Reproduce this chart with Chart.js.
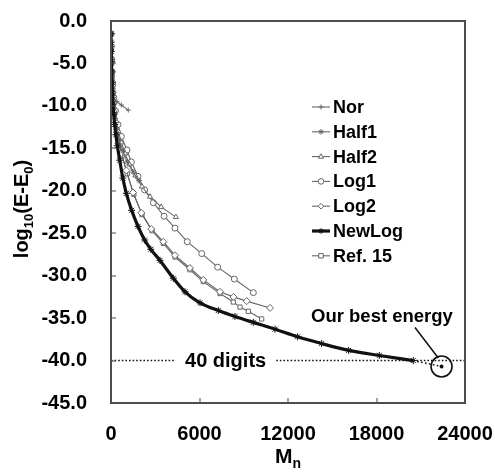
<!DOCTYPE html>
<html>
<head>
<meta charset="utf-8">
<script src="https://cdn.jsdelivr.net/npm/chart.js@4/dist/chart.umd.min.js"></script>
<style>
html,body{margin:0;padding:0;background:#fff;}
canvas{display:block;}
</style>
</head>
<body>
<canvas id="c" width="495" height="473"></canvas>
<script>
// ---- data ----
const SERIES_NAMES = ['Nor', 'Half1', 'Half2', 'Log1', 'Log2', 'NewLog', 'Ref. 15'];

const NOR_X = [0, 10, 20, 35, 50, 70, 100, 160, 400, 700, 1170];
const NOR_Y = [-1.5, -2.5, -3.8, -5.0, -6.2, -7.4, -8.3, -9.0, -9.5, -9.9, -10.5];

const HALF1_X = [0, 15, 30, 50, 80, 120, 180, 260, 380, 550, 800, 1100, 1500, 1900];
const HALF1_Y = [-1.5, -3.0, -4.5, -6.0, -7.5, -8.8, -10.2, -11.5, -12.8, -14.0, -15.3, -16.6, -17.8, -18.8];

const HALF2_X = [0, 20, 40, 70, 110, 170, 250, 360, 500, 700, 950, 1250, 1650, 2100, 2644, 3400, 4400];
const HALF2_Y = [-1.5, -3.2, -4.8, -6.4, -7.8, -9.3, -10.6, -11.8, -13.0, -14.3, -15.6, -16.9, -18.2, -19.5, -20.7, -21.9, -23.1];

const LOG1_X = [0, 20, 40, 70, 120, 190, 300, 475, 700, 1085, 1380, 1830, 2280, 2870, 3600, 4340, 5170, 6150, 7230, 8360, 9650];
const LOG1_Y = [-1.5, -3.0, -4.5, -6.0, -7.5, -9.0, -10.6, -12.2, -13.6, -15.2, -16.6, -18.3, -19.9, -21.4, -23.0, -24.4, -26.0, -27.4, -29.0, -30.4, -32.0];

const LOG2_X = [0, 15, 30, 50, 80, 120, 180, 250, 350, 450, 700, 1040, 1490, 2060, 2730, 3548, 4340, 5350, 6260, 7390, 8300, 9200, 10780];
const LOG2_Y = [-1.5, -3.0, -4.5, -6.0, -7.2, -8.4, -9.6, -10.6, -12.0, -13.3, -15.6, -17.6, -20.2, -22.6, -24.5, -26.0, -27.6, -29.1, -30.5, -31.9, -32.5, -33.0, -33.8];

const NEWLOG_X = [0, 10, 20, 35, 50, 70, 100, 140, 190, 250, 330, 430, 590, 800, 1040, 1400, 1830, 2280, 2700, 3322, 4226, 5017, 6034, 7277, 8407, 9650, 11119, 12650, 14280, 16110, 18190, 20490];
const NEWLOG_Y = [-1.5, -2.5, -3.6, -4.8, -6.0, -7.2, -8.5, -9.8, -11.0, -12.2, -13.4, -14.7, -16.4, -18.5, -20.3, -22.3, -24.2, -25.8, -26.9, -28.2, -30.3, -31.9, -33.2, -34.1, -34.8, -35.5, -36.3, -37.2, -38.0, -38.8, -39.4, -40.0];

const REF15_X = [0, 20, 40, 70, 110, 170, 250, 350, 500, 750, 1100, 1550, 2100, 2780, 3548, 4340, 5350, 6260, 7390, 8290, 8745, 9310, 10215];
const REF15_Y = [-1.5, -3.3, -5.0, -6.6, -8.0, -9.5, -10.8, -12.2, -13.8, -15.9, -18.0, -20.4, -22.8, -24.7, -26.2, -27.8, -29.3, -30.7, -32.1, -33.1, -33.7, -34.2, -35.1];

// best energy point and the 40-digit reference line
const BEST_X = [20490, 22410];
const BEST_Y = [-40.0, -40.7];
const DIGITS_LEVEL = -40;
const DIGITS_X = [0, 4400, null, 11200, 24000];

// plot frame corners (axis extent), drawn as a closed polyline dataset
const FRAME_X = [0, 24000, 24000, 0, 0];
const FRAME_Y = [0, 0, -45, -45, 0];

const X_TICKS = [0, 6000, 12000, 18000, 24000];
const Y_TICKS = [0, -5, -10, -15, -20, -25, -30, -35, -40, -45];

// ---- build ----
const pts = (xs, ys) => xs.map((x, i) => ({x: x, y: ys[i]}));
const GREY = '#666666';
const FRAME = '#4d4d4d';
const styles = [
  {style: 'cross', r: 2.5, col: GREY, w: 1.1},
  {style: 'star', r: 3, col: GREY, w: 1.1},
  {style: 'triangle', r: 3, col: GREY, w: 1.1},
  {style: 'circle', r: 3, col: GREY, w: 1.1},
  {style: 'rectRot', r: 3.5, col: GREY, w: 1.1},
  {style: 'star', r: 3.5, col: '#111', w: 3.2},
  {style: 'rect', r: 3, col: GREY, w: 1.1}
];
const raw = [[NOR_X, NOR_Y], [HALF1_X, HALF1_Y], [HALF2_X, HALF2_Y], [LOG1_X, LOG1_Y], [LOG2_X, LOG2_Y], [NEWLOG_X, NEWLOG_Y], [REF15_X, REF15_Y]];

const datasets = raw.map((d, i) => ({
  label: SERIES_NAMES[i],
  data: pts(d[0], d[1]),
  showLine: true,
  borderColor: styles[i].col,
  borderWidth: styles[i].w,
  pointStyle: styles[i].style,
  pointRadius: styles[i].r,
  pointBorderColor: styles[i].col,
  pointBorderWidth: 1,
  pointBackgroundColor: '#fff',
  tension: i === 5 ? 0.3 : 0,
  cubicInterpolationMode: i === 5 ? 'monotone' : 'default',
  order: i === 5 ? 0 : 1
}));

datasets.push({
  label: 'digits',
  data: DIGITS_X.map(x => ({x: x === null ? 8000 : x, y: x === null ? null : DIGITS_LEVEL})),
  showLine: true, spanGaps: false,
  borderColor: '#111', borderWidth: 1.6, borderDash: [1.6, 2],
  pointRadius: 0, order: 2
});
datasets.push({
  label: 'best',
  data: pts(BEST_X, BEST_Y),
  showLine: true,
  borderColor: '#111', borderWidth: 1.6, borderDash: [1.6, 2.4],
  pointRadius: [0, 1.2], pointBackgroundColor: '#111', pointBorderColor: '#111',
  order: 2
});
datasets.push({
  label: 'circle',
  data: [{x: BEST_X[1], y: BEST_Y[1]}],
  showLine: false,
  pointStyle: 'circle', pointRadius: 10.5, pointBorderWidth: 1.6,
  pointBorderColor: '#111', pointBackgroundColor: 'rgba(0,0,0,0)',
  order: 2
});
datasets.push({
  label: 'frame',
  data: pts(FRAME_X, FRAME_Y),
  showLine: true, clip: 4,
  borderColor: FRAME, borderWidth: 1.8,
  pointRadius: 0, order: 3
});

const FONT = '"Liberation Sans", Arial, Helvetica, sans-serif';

function marker(ctx, style, x, y, r) {
  ctx.beginPath();
  if (style === 'circle') { ctx.arc(x, y, r, 0, Math.PI * 2); ctx.fill(); ctx.stroke(); return; }
  if (style === 'rect') { ctx.rect(x - r * 0.8, y - r * 0.8, r * 1.6, r * 1.6); ctx.fill(); ctx.stroke(); return; }
  if (style === 'rectRot') { ctx.moveTo(x, y - r); ctx.lineTo(x + r, y); ctx.lineTo(x, y + r); ctx.lineTo(x - r, y); ctx.closePath(); ctx.fill(); ctx.stroke(); return; }
  if (style === 'triangle') { ctx.moveTo(x, y - r); ctx.lineTo(x + r * 0.9, y + r * 0.6); ctx.lineTo(x - r * 0.9, y + r * 0.6); ctx.closePath(); ctx.fill(); ctx.stroke(); return; }
  if (style === 'cross') { ctx.moveTo(x, y - r); ctx.lineTo(x, y + r); ctx.moveTo(x - r, y); ctx.lineTo(x + r, y); ctx.stroke(); return; }
  if (style === 'star') { ctx.moveTo(x, y - r); ctx.lineTo(x, y + r); ctx.moveTo(x - r, y); ctx.lineTo(x + r, y); ctx.moveTo(x - r * 0.7, y - r * 0.7); ctx.lineTo(x + r * 0.7, y + r * 0.7); ctx.moveTo(x - r * 0.7, y + r * 0.7); ctx.lineTo(x + r * 0.7, y - r * 0.7); ctx.stroke(); return; }
}

const decor = {
  id: 'decor',
  afterDraw(chart) {
    const ctx = chart.ctx;
    const xs = chart.scales.x, ys = chart.scales.y;
    const L = Math.round(xs.getPixelForValue(0)), R = Math.round(xs.getPixelForValue(24000));
    const T = Math.round(ys.getPixelForValue(0)), B = Math.round(ys.getPixelForValue(-45));
    ctx.save();
    ctx.setLineDash([]);
    ctx.globalAlpha = 1;
    ctx.globalCompositeOperation = 'source-over';
    ctx.fillStyle = FRAME;
    ctx.fillRect(L - 1, T - 1, R - L + 2, 2);
    ctx.fillRect(L - 1, B - 1, R - L + 2, 2);
    ctx.fillRect(L - 1, T - 1, 2, B - T + 2);
    ctx.fillRect(R - 1, T - 1, 2, B - T + 2);
    // inner ticks
    Y_TICKS.forEach(v => { const p = Math.round(ys.getPixelForValue(v)); ctx.fillRect(L, p - 0.5, 5, 1); });
    X_TICKS.forEach(v => { const p = Math.round(xs.getPixelForValue(v)); ctx.fillRect(p - 0.5, B - 5, 1, 5); });

    // legend
    const lx0 = 312, lx1 = 330, ly0 = 107, dy = 24.8;
    ctx.font = 'bold 18px ' + FONT;
    ctx.textBaseline = 'middle'; ctx.textAlign = 'left';
    SERIES_NAMES.forEach((n, i) => {
      const y = ly0 + i * dy, s = styles[i];
      ctx.strokeStyle = s.col; ctx.lineWidth = s.w;
      ctx.beginPath(); ctx.moveTo(lx0, y); ctx.lineTo(lx1, y); ctx.stroke();
      ctx.lineWidth = 1; ctx.fillStyle = '#fff';
      marker(ctx, s.style, (lx0 + lx1) / 2, y, Math.min(s.r, 2.8));
      ctx.fillStyle = '#000';
      ctx.fillText(n, 333, y + 1);
    });

    // annotations
    ctx.fillStyle = '#000';
    ctx.font = 'bold 20px ' + FONT;
    ctx.textAlign = 'left';
    ctx.fillText('40 digits', xs.getPixelForValue(5020), ys.getPixelForValue(DIGITS_LEVEL) + 0.5);
    ctx.font = 'bold 18.5px ' + FONT;
    ctx.textAlign = 'center';
    ctx.fillText('Our best energy', xs.getPixelForValue(18370), ys.getPixelForValue(-34.9));
    ctx.strokeStyle = '#111'; ctx.lineWidth = 1.5;
    ctx.beginPath();
    ctx.moveTo(xs.getPixelForValue(20610), ys.getPixelForValue(-36.1));
    ctx.lineTo(xs.getPixelForValue(22190), ys.getPixelForValue(-39.7));
    ctx.stroke();

    // x title: M_n
    ctx.textAlign = 'left'; ctx.textBaseline = 'alphabetic';
    ctx.font = 'bold 21px ' + FONT;
    const wM = ctx.measureText('M').width;
    ctx.font = 'bold 14px ' + FONT;
    const wn = ctx.measureText('n').width;
    let sx = 288 - (wM + wn) / 2;
    ctx.font = 'bold 21px ' + FONT; ctx.fillText('M', sx, 463);
    ctx.font = 'bold 14px ' + FONT; ctx.fillText('n', sx + wM, 468);

    // y title: log10(E-E0)
    const parts = [['log', 20, 0], ['10', 13, 5], ['(E-E', 20, 0], ['0', 13, 5], [')', 20, 0]];
    let tot = 0;
    parts.forEach(p => { ctx.font = 'bold ' + p[1] + 'px ' + FONT; p.push(ctx.measureText(p[0]).width); tot += p[3]; });
    ctx.translate(28, 209); ctx.rotate(-Math.PI / 2);
    let cx = -tot / 2;
    parts.forEach(p => { ctx.font = 'bold ' + p[1] + 'px ' + FONT; ctx.fillText(p[0], cx, p[2]); cx += p[3]; });
    ctx.restore();
  }
};

new Chart(document.getElementById('c'), {
  type: 'scatter',
  data: {datasets: datasets},
  options: {
    animation: false, responsive: false, devicePixelRatio: 1,
    layout: {padding: {left: 0, right: 30, top: 21, bottom: 0}},
    plugins: {legend: {display: false}, tooltip: {enabled: false}},
    scales: {
      x: {
        type: 'linear', min: 0, max: 24000,
        afterBuildTicks: s => { s.ticks = X_TICKS.map(v => ({value: v})); },
        afterFit: s => { s.height = 70; s.paddingLeft = 0; s.paddingRight = 0; },
        ticks: {color: '#000', font: {family: FONT, size: 20, weight: 'bold'}, padding: 19, maxRotation: 0, autoSkip: false, callback: v => String(v)},
        grid: {display: false, drawTicks: false},
        border: {display: true, color: FRAME, width: 1.5}
      },
      y: {
        min: -45, max: 0,
        afterBuildTicks: s => { s.ticks = Y_TICKS.map(v => ({value: v})); },
        afterFit: s => { s.width = 111; s.paddingTop = 0; s.paddingBottom = 0; },
        ticks: {color: '#000', font: {family: FONT, size: 20, weight: 'bold'}, padding: 24, autoSkip: false, callback: v => v.toFixed(1)},
        grid: {display: false, drawTicks: false},
        border: {display: true, color: FRAME, width: 1.5}
      }
    }
  },
  plugins: [decor]
});
</script>
</body>
</html>
